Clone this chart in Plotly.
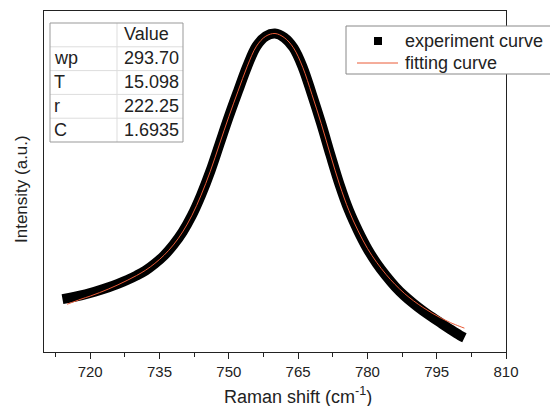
import plotly.graph_objects as go

# ---------------- data ----------------
exp_x = [714, 716, 718, 720, 722, 724, 726, 728, 730, 732, 734, 736, 738, 740,
         742, 744, 746, 748, 750, 752, 754, 756, 758, 760, 762, 764, 766, 768,
         770, 772, 774, 776, 778, 780, 782, 784, 786, 788, 790, 792, 794, 796,
         798, 800, 801]
exp_y = [155, 160, 166, 173, 181, 190, 200, 211, 224, 239, 259, 283, 314, 352,
         400, 460, 530, 610, 690, 765, 838, 897, 926, 934, 922, 892, 835, 755,
         670, 578, 490, 415, 355, 303, 260, 224, 192, 165, 142, 121, 102, 84,
         66, 49, 42]

fit_x = [715, 718, 720, 722, 724, 726, 728, 730, 732, 734, 736, 738, 740,
         742, 744, 746, 748, 750, 752, 754, 756, 758, 760, 762, 764, 766, 768,
         770, 772, 774, 776, 778, 780, 782, 784, 786, 788, 790, 792, 794, 796,
         798, 800, 801]
fit_y = [140, 155, 164, 174, 185, 197, 210, 224, 240, 260, 284, 314, 352,
         400, 460, 530, 610, 690, 765, 838, 897, 926, 934, 922, 892, 835, 755,
         670, 578, 490, 415, 355, 304, 263, 228, 198, 172, 150, 131, 114, 99,
         86, 75, 70]

table_names = ["", "wp", "T", "r", "C"]
table_values = ["Value", "293.70", "15.098", "222.25", "1.6935"]
legend_names = ["experiment curve", "fitting curve"]

x_range = [710, 810]
y_range = [0, 1000]

# ---------------- layout helpers (pixel -> paper) ----------------
W, H = 550, 406
L, R, T, B = 44, 506, 11, 352


def px(v):
    return (v - L) / (R - L)


def py(v):
    return (B - v) / (B - T)


FONT = "Liberation Sans, Arial, sans-serif"
AX = "#222222"
FIT_COLOR = "#EA5A36"

fig = go.Figure()

fig.add_trace(go.Scatter(
    x=exp_x, y=exp_y, mode="lines", name=legend_names[0],
    line=dict(color="black", width=10, shape="spline"), showlegend=False))
fig.add_trace(go.Scatter(
    x=fit_x, y=fit_y, mode="lines", name=legend_names[1],
    line=dict(color=FIT_COLOR, width=1, shape="spline"), showlegend=False))

shapes = []
annotations = []

# ---------------- table ----------------
t_left, t_right, t_top, t_bot, t_mid = 50, 183, 23, 142, 117
row_h = (t_bot - t_top) / 5
for i in range(1, 5):
    yy = t_top + i * row_h
    shapes.append(dict(type="line", xref="paper", yref="paper",
                       x0=px(t_left), x1=px(t_right), y0=py(yy), y1=py(yy),
                       line=dict(color="#dddddd", width=1)))
shapes.append(dict(type="line", xref="paper", yref="paper",
                   x0=px(t_mid), x1=px(t_mid), y0=py(t_top), y1=py(t_bot),
                   line=dict(color="#dddddd", width=1)))
shapes.append(dict(type="rect", xref="paper", yref="paper",
                   x0=px(t_left), x1=px(t_right), y0=py(t_top), y1=py(t_bot),
                   line=dict(color="#999999", width=1)))

for i, (n, v) in enumerate(zip(table_names, table_values)):
    yc = t_top + (i + 0.5) * row_h - 0.5
    if n:
        annotations.append(dict(text=n, xref="paper", yref="paper", x=px(t_left + 2), y=py(yc),
                                xanchor="left", yanchor="middle", showarrow=False,
                                font=dict(family=FONT, size=18, color=AX)))
    annotations.append(dict(text=v, xref="paper", yref="paper", x=px(t_mid + 5), y=py(yc),
                            xanchor="left", yanchor="middle", showarrow=False,
                            font=dict(family=FONT, size=18, color=AX)))

# ---------------- legend (drawn by hand) ----------------
lg_left, lg_top, lg_bot = 346, 26, 74
shapes.append(dict(type="rect", xref="paper", yref="paper", layer="above",
                   x0=px(lg_left), x1=px(lg_left + 230), y0=py(lg_top), y1=py(lg_bot),
                   fillcolor="white", line=dict(color="#888888", width=1)))
shapes.append(dict(type="rect", xref="paper", yref="paper", layer="above",
                   x0=px(374), x1=px(382), y0=py(37), y1=py(45),
                   fillcolor="black", line=dict(width=0)))
shapes.append(dict(type="line", xref="paper", yref="paper", layer="above",
                   x0=px(357), x1=px(398), y0=py(63), y1=py(63),
                   line=dict(color=FIT_COLOR, width=1)))
for name, yc in zip(legend_names, [41, 63]):
    annotations.append(dict(text=name, xref="paper", yref="paper", x=px(403), y=py(yc),
                            xanchor="left", yanchor="middle", showarrow=False,
                            font=dict(family=FONT, size=18, color=AX)))

# axis titles
annotations.append(dict(text="Raman shift (cm<sup>-1</sup>)", xref="paper", yref="paper",
                        x=px(298), y=py(396), xanchor="center", yanchor="middle",
                        showarrow=False, font=dict(family=FONT, size=18, color=AX)))
annotations.append(dict(text="Intensity (a.u.)", xref="paper", yref="paper",
                        x=px(21), y=py(189), xanchor="center", yanchor="middle",
                        textangle=-90, showarrow=False,
                        font=dict(family=FONT, size=17, color=AX)))

fig.update_layout(
    width=W, height=H,
    margin=dict(l=L, r=W - R, t=T, b=H - B, autoexpand=False),
    paper_bgcolor="white", plot_bgcolor="white",
    font=dict(family=FONT, color=AX),
    shapes=shapes, annotations=annotations,
    showlegend=False,
    xaxis=dict(range=x_range, showgrid=False, zeroline=False,
               showline=True, linecolor=AX, linewidth=1.3, mirror=True,
               ticks="outside", tick0=720, dtick=15, ticklen=6, tickwidth=1.2, tickcolor=AX,
               tickfont=dict(family=FONT, size=15, color=AX),
               minor=dict(ticks="outside", dtick=7.5, tick0=720, ticklen=4, tickcolor=AX, tickwidth=1)),
    xaxis2=dict(range=x_range, overlaying="x", side="top", anchor="y", showgrid=False,
                zeroline=False, showline=False, showticklabels=False,
                ticks="inside", tick0=720, dtick=15, ticklen=5, tickwidth=1.2, tickcolor=AX,
                minor=dict(ticks="inside", dtick=7.5, tick0=720, ticklen=3, tickcolor=AX, tickwidth=1)),
    yaxis=dict(range=y_range, showgrid=False, zeroline=False, showticklabels=False,
               showline=True, linecolor=AX, linewidth=1.3, mirror=True, ticks=""),
)

fig.write_html("out.html")
